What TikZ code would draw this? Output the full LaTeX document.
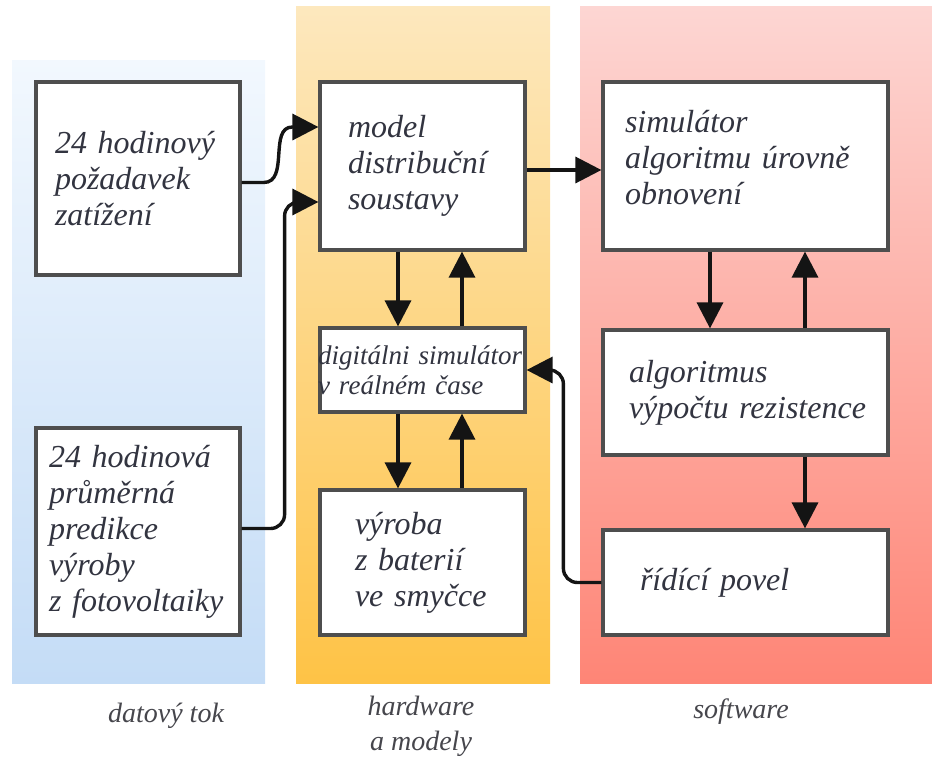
\documentclass[tikz,border=0pt]{standalone}
\usepackage{fontspec}
\setmainfont{Liberation Serif}
\usetikzlibrary{arrows.meta}

\definecolor{blueTop}{RGB}{242,248,254}
\definecolor{blueBot}{RGB}{196,220,246}
\definecolor{orangeTop}{RGB}{253,232,190}
\definecolor{orangeBot}{RGB}{254,195,70}
\definecolor{redTop}{RGB}{253,214,211}
\definecolor{redBot}{RGB}{254,133,118}
\definecolor{boxline}{RGB}{78,78,78}
\definecolor{inkline}{RGB}{20,20,20}
\definecolor{textink}{RGB}{50,52,64}
\definecolor{labelink}{RGB}{70,70,76}

\tikzset{
  box/.style={draw=boxline, line width=3.2pt, fill=white, inner ysep=0pt,
    align=left, text=textink, font=\fontsize{32}{36}\selectfont\itshape},
  smallbox/.style={box, font=\fontsize{27}{30}\selectfont\itshape},
  arr/.style={draw=inkline, line width=3.4pt,
    -{Triangle[length=26pt,width=26pt]}},
  collabel/.style={align=center, text=labelink,
    font=\fontsize{28}{35}\selectfont\itshape}
}

\begin{document}
\begin{tikzpicture}[x=1pt, y=-1pt]
  \useasboundingbox (0,0) rectangle (932,756);

  % column backgrounds
  \shade[top color=blueTop, bottom color=blueBot] (12,60) rectangle (265,683);
  \shade[top color=orangeTop, bottom color=orangeBot] (296,6) rectangle (550,683);
  \shade[top color=redTop, bottom color=redBot] (580,6) rectangle (932,683);

  % data stream
  \node[box, minimum width=204pt, minimum height=193pt, inner xsep=19pt,
        text width=166pt] (A) at (138,178.5)
        {24 hodinový\\požadavek\\zatížení};
  \node[box, minimum width=204pt, minimum height=207pt, inner xsep=13pt,
        text width=178pt] (B) at (138,531.5)
        {24 hodinová\\průměrná\\predikce\\výroby\\z fotovoltaiky};

  % hardware and models
  \node[box, minimum width=205pt, minimum height=168pt, inner xsep=28pt,
        text width=149pt] (C) at (422.5,166)
        {model\\distribuční\\soustavy};
  \node[smallbox, minimum width=205pt, minimum height=84pt, inner xsep=0pt,
        text width=205pt] (D) at (422.5,370)
        {\hspace*{-2pt}digitálni simulátor\\\hspace*{-2pt}v reálném čase};
  \node[box, minimum width=205pt, minimum height=145pt, inner xsep=35pt,
        text width=135pt] (E) at (422.5,562.5)
        {výroba\\z baterií\\ve smyčce};

  % software
  \node[box, minimum width=285pt, minimum height=168pt, inner xsep=22pt,
        text width=241pt] (F) at (745.5,166)
        {simulátor\\algoritmu úrovně\\obnovení\par\vspace*{16pt}};
  \node[box, minimum width=285pt, minimum height=125pt, inner xsep=22pt,
        text width=241pt] (G) at (745.5,392.5)
        {\hspace*{4pt}algoritmus\\\hspace*{4pt}výpočtu rezistence};
  \node[box, minimum width=285pt, minimum height=105pt, inner xsep=37pt,
        text width=211pt] (H) at (745.5,582.5)
        {řídící povel};

  % column captions
  \node[collabel] (l1) at (166,716) {datový tok};
  \node[collabel] (l2) at (421,726) {hardware\\a modely};
  \node[collabel] (l3) at (741,712) {software};

  % connectors
  \draw[arr] ([yshift=-4pt]A.east) -- ++(22,0)
        .. controls +(26,0) and +(-24,0) .. ([xshift=-26pt,yshift=39pt]C.west)
        -- ([yshift=39pt]C.west);
  \draw[arr, rounded corners=14pt] ([yshift=3pt]B.east) -- ++(43,0)
        |- ([yshift=-36pt]C.west);
  \draw[arr] ([yshift=-4pt]C.east) -- ([yshift=-4pt]F.west);

  \draw[arr] ([xshift=-24.5pt]C.south) -- ([xshift=-24.5pt]D.north);
  \draw[arr] ([xshift=39.5pt]D.north) -- ([xshift=39.5pt]C.south);
  \draw[arr] ([xshift=-24.5pt]D.south) -- ([xshift=-24.5pt]E.north);
  \draw[arr] ([xshift=39.5pt]E.north) -- ([xshift=39.5pt]D.south);

  \draw[arr] ([xshift=-35.5pt]F.south) -- ([xshift=-35.5pt]G.north);
  \draw[arr] ([xshift=59.5pt]G.north) -- ([xshift=59.5pt]F.south);
  \draw[arr] ([xshift=59.5pt]G.south) -- ([xshift=59.5pt]H.north);

  \draw[arr, rounded corners=14pt] (H.west) -- ++(-38,0) |- (D.east);
\end{tikzpicture}
\end{document}
